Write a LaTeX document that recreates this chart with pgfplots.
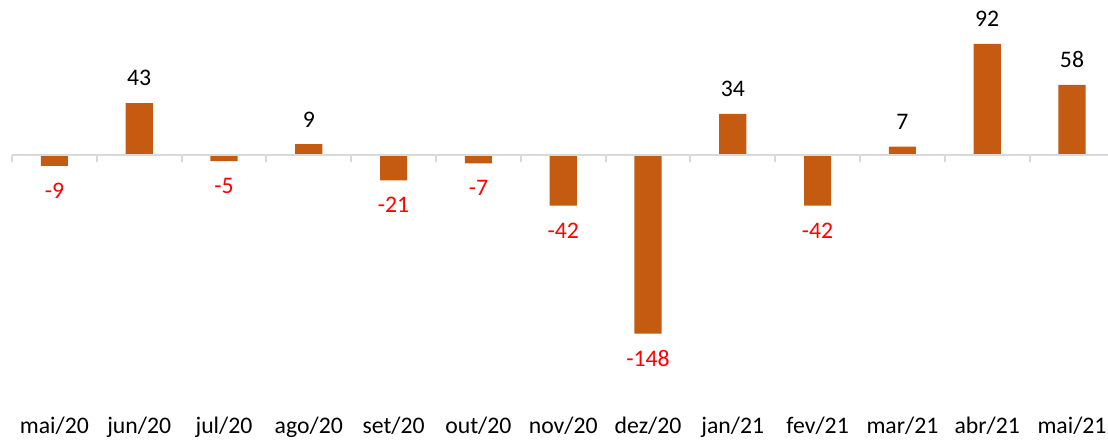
\documentclass[border=0pt]{standalone}
\usepackage{pgfplots}
\pgfplotsset{compat=1.18}
\usepackage{fontspec}
\setmainfont{Carlito}
\definecolor{barc}{HTML}{C55A11}
\definecolor{axc}{HTML}{D9D9D9}
\definecolor{negred}{HTML}{FF0000}
\begin{document}
\begin{tikzpicture}
\begin{axis}[
  scale only axis, width=826.8pt, height=329.25pt,
  xmin=-0.5, xmax=12.5, ymin=-235.3, ymax=128.4,
  axis x line*=bottom, x axis line style={draw=none},
  axis y line=none,
  ytick=\empty,
  xtick={0,1,...,12},
  xticklabels={mai/20,jun/20,jul/20,ago/20,set/20,out/20,nov/20,dez/20,jan/21,fev/21,mar/21,abr/21,mai/21},
  major tick length=0pt,
  xtick style={draw=none},
  xticklabel style={anchor=base, yshift=4.5pt, font=\fontsize{17.8}{20}\selectfont},
  clip=false,
  ybar, bar width=0.32, bar shift=0pt,
  nodes near coords,
  point meta=explicit symbolic,
  every node near coord/.append style={font=\fontsize{17.8}{20}\selectfont, inner ysep=12.5pt},
]
% positive months
\addplot[fill=barc, draw=none,
  every node near coord/.append style={anchor=south, text=black}] coordinates {
  (1,43) [43]
  (3,9) [9]
  (8,34) [34]
  (10,7) [7]
  (11,92) [92]
  (12,58) [58]
};
% negative months
\addplot[fill=barc, draw=none,
  every node near coord/.append style={anchor=north, text=negred}] coordinates {
  (0,-9) [-9]
  (2,-5) [-5]
  (4,-21) [-21]
  (5,-7) [-7]
  (6,-42) [-42]
  (7,-148) [-148]
  (9,-42) [-42]
};
\draw[axc, line width=1.5pt] (axis cs:-0.5,0) -- (axis cs:12.5,0);
\pgfplotsinvokeforeach{-0.5,0.5,...,12.5}{
  \draw[axc, line width=1.5pt] (axis cs:#1,0) -- ++(0pt,-5.5pt);
}
\end{axis}
\pgfresetboundingbox
\path[use as bounding box] ([xshift=-9pt]current axis.south west) rectangle ([xshift=-4.8pt]current axis.north east);
\end{tikzpicture}
\end{document}
